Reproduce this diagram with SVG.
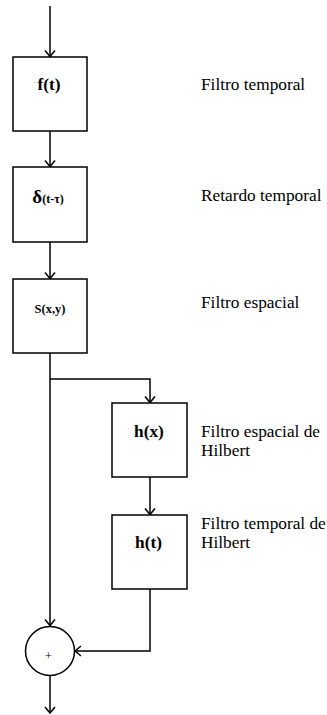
<svg xmlns="http://www.w3.org/2000/svg" width="327" height="715" viewBox="0 0 327 715">
<style>
.box{fill:#fff;stroke:#000;stroke-width:1.5}
.conn{fill:none;stroke:#000;stroke-width:1.5}
.lbl{font-family:'Liberation Serif',serif;font-size:17.3px;fill:#000}
.sym{font-family:'Liberation Serif',serif;font-weight:bold;fill:#000;text-anchor:middle}
</style>
<defs>
<marker id="arr" markerWidth="12" markerHeight="12" refX="0" refY="0" viewBox="-8 -6 10 12" orient="auto" markerUnits="userSpaceOnUse">
<path d="M-6,-5 L0,0 L-6,5" fill="none" stroke="#000" stroke-width="1.5"/>
</marker>
</defs>
<rect width="327" height="715" fill="#fff"/>
<g id="connectors">
<path class="conn" d="M50,6 V56.5" marker-end="url(#arr)"/>
<path class="conn" d="M50,131 V166.5" marker-end="url(#arr)"/>
<path class="conn" d="M50,242 V278.5" marker-end="url(#arr)"/>
<path class="conn" d="M50,353 V625.5" marker-end="url(#arr)"/>
<path class="conn" d="M50,379 H150 V402.5" marker-end="url(#arr)"/>
<path class="conn" d="M150,477 V514.5" marker-end="url(#arr)"/>
<path class="conn" d="M150,589 V651 H75" marker-end="url(#arr)"/>
<path class="conn" d="M50,676 V713" marker-end="url(#arr)"/>
</g>
<g id="node-f" font-family="Liberation Serif, serif">
<rect class="box" x="13" y="57" width="74" height="74"/>
<text class="sym" x="49" y="90" font-size="17.3">f(t)</text>
</g>
<g id="node-delta" font-family="Liberation Serif, serif">
<rect class="box" x="13" y="167" width="74" height="75"/>
<text class="sym" x="48" y="203" font-size="19">δ<tspan font-size="12">(t-τ)</tspan></text>
</g>
<g id="node-s" font-family="Liberation Serif, serif">
<rect class="box" x="13" y="279" width="74" height="74"/>
<text class="sym" x="50" y="313" font-size="12.5">S(x,y)</text>
</g>
<g id="node-hx" font-family="Liberation Serif, serif">
<rect class="box" x="112" y="403" width="75" height="74"/>
<text class="sym" x="149" y="437" font-size="17.3">h(x)</text>
</g>
<g id="node-ht" font-family="Liberation Serif, serif">
<rect class="box" x="112" y="515" width="75" height="74"/>
<text class="sym" x="148.5" y="548" font-size="17.3">h(t)</text>
</g>
<g id="node-sum" font-family="Liberation Serif, serif">
<circle class="box" cx="50" cy="651" r="24.5"/>
<text x="48.3" y="660" font-size="12" text-anchor="middle">+</text>
</g>
<g id="labels" font-family="Liberation Serif, serif">
<text class="lbl" x="201" y="90">Filtro temporal</text>
<text class="lbl" x="201" y="201">Retardo temporal</text>
<text class="lbl" x="201" y="308">Filtro espacial</text>
<text class="lbl" x="201" y="437">Filtro espacial de</text>
<text class="lbl" x="201" y="456">Hilbert</text>
<text class="lbl" x="201" y="529">Filtro temporal de</text>
<text class="lbl" x="201" y="548">Hilbert</text>
</g>
</svg>
